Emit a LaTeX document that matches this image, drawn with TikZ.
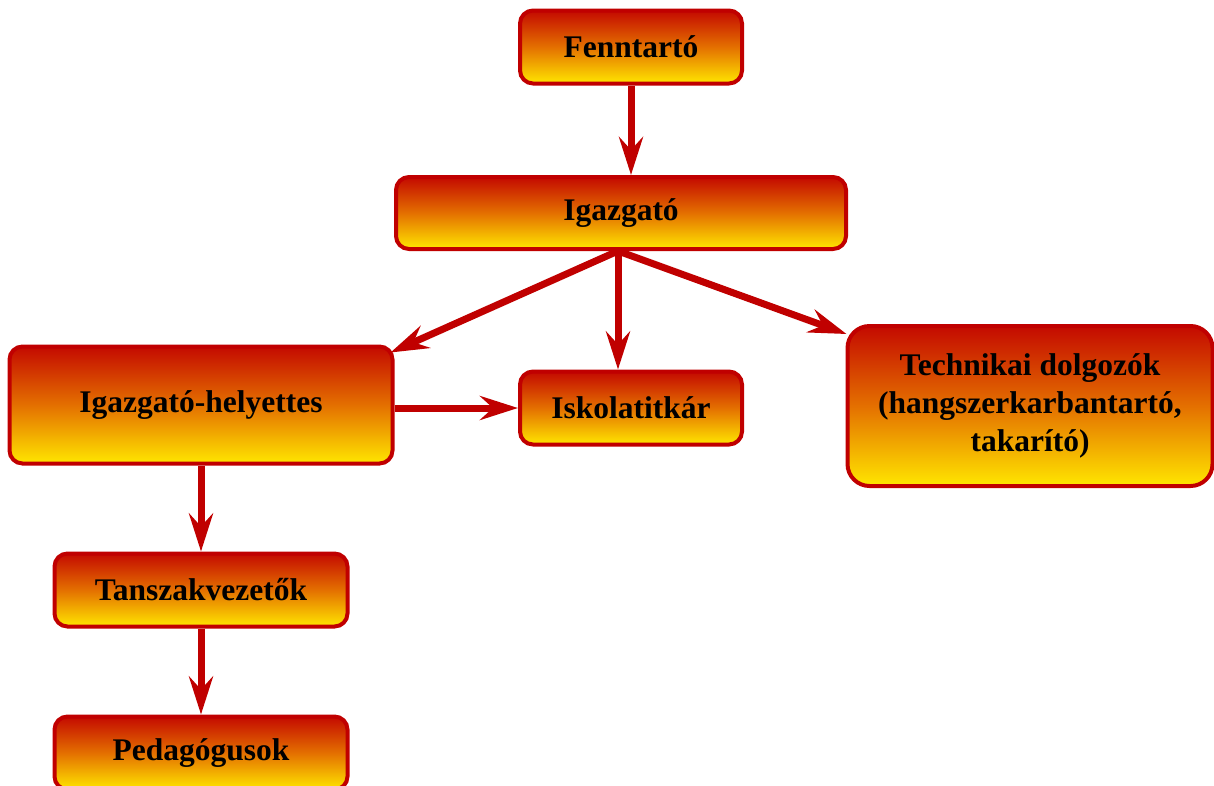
\documentclass[tikz,border=0pt]{standalone}
\usepackage{fontspec}
\setmainfont{Liberation Serif}
\usetikzlibrary{arrows.meta,calc}
\definecolor{bordred}{RGB}{192,0,0}
\definecolor{topred}{RGB}{196,10,0}
\definecolor{midorange}{RGB}{228,112,0}
\definecolor{botyellow}{RGB}{255,230,0}
\tikzset{
  orgbox/.style={draw=bordred, line width=4pt, rounded corners=13pt,
    top color=topred, bottom color=botyellow, middle color=midorange,
    font=\fontsize{31.5}{38}\selectfont\bfseries, align=center, inner sep=0pt},
  orgarrow/.style={draw=bordred, line width=7pt,
    -{Stealth[length=38pt,width=24pt,inset=13pt]}}
}
\begin{document}
\begin{tikzpicture}[x=1pt,y=-1pt]
\useasboundingbox (0,0) rectangle (1214,785);
\clip (0,0) rectangle (1214,785);
\node[orgbox, minimum width=222pt, minimum height=73pt] (fenn) at (631,47) {Fenntartó};
\node[orgbox, minimum width=450pt, minimum height=72pt] (igaz) at (621,213) {Igazgató};
\node[orgbox, minimum width=383pt, minimum height=117pt] (hely) at (201,405) {Igazgató-helyettes};
\node[orgbox, minimum width=222pt, minimum height=73pt] (isk) at (631,408) {Iskolatitkár};
\node[orgbox, rounded corners=22pt, minimum width=365pt, minimum height=160pt] (tech) at (1030,406) {Technikai dolgozók\\(hangszerkarbantartó,\\takarító)};
\node[orgbox, minimum width=293pt, minimum height=73pt] (tan) at (201,590) {Tanszakvezetők};
\node[orgbox, minimum width=293pt, minimum height=73pt] (ped) at (201,753) {Pedagógusok};
\draw[orgarrow] (fenn.south) -- (fenn.south |- igaz.north);
\draw[orgarrow] ([xshift=-3pt]igaz.south) -- ([xshift=-4pt,yshift=-8pt]hely.north east);
\draw[orgarrow] ([xshift=-3pt]igaz.south) -- ([xshift=-3pt]igaz.south |- isk.north);
\draw[orgarrow] ([xshift=-3pt]igaz.south) -- ([xshift=1pt,yshift=-10pt]tech.north west);
\draw[orgarrow] (hely.east |- isk.west) -- (isk.west);
\draw[orgarrow] (hely.south) -- (tan.north);
\draw[orgarrow] (tan.south) -- (ped.north);
\end{tikzpicture}
\end{document}
